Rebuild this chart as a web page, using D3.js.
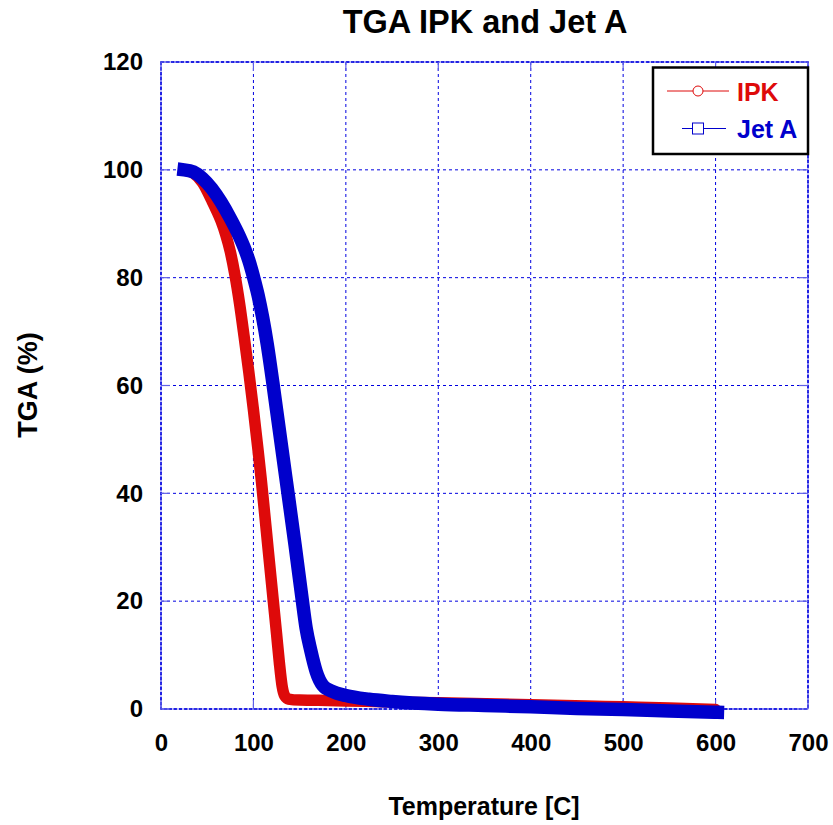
<!DOCTYPE html>
<html>
<head>
<meta charset="utf-8">
<script src="https://cdn.jsdelivr.net/npm/d3@7"></script>
<style>
  html, body { margin: 0; padding: 0; background: #fff; }
  text { font-family: "Liberation Sans", Arial, Helvetica, sans-serif; font-weight: bold; }
</style>
</head>
<body>
<svg id="chart" width="833" height="825"></svg>
<script>
// ---- data ----
const xTicks = [0, 100, 200, 300, 400, 500, 600, 700];
const yTicks = [0, 20, 40, 60, 80, 100, 120];

const ipkTemp = [25, 35, 45, 55, 60, 65, 70, 75, 80, 85, 90, 95, 100, 105, 108.5, 112, 116, 121.5, 125, 128, 131, 134, 138, 150, 170, 200, 250, 300, 400, 460, 500, 550, 600];
const ipkTGA  = [100, 99.4, 97.6, 94.3, 92.5, 90.5, 88, 84.8, 80.5, 75.2, 69, 62.5, 55.5, 48, 42.5, 36.5, 29.5, 20, 14, 8.7, 4.3, 2.4, 1.85, 1.65, 1.6, 1.5, 1.3, 1.15, 0.8, 0.55, 0.4, 0.2, -0.1];

const jetTemp = [25, 35, 45, 55, 65, 75, 85, 90, 95, 100, 105, 110, 115, 121, 125, 135, 145, 152.6, 157, 162, 168, 175, 185, 200, 225, 250, 300, 350, 400, 450, 500, 550, 602];
const jetTGA  = [100, 99.6, 98.4, 96.5, 94, 91, 87.6, 85.6, 83.2, 80.2, 76.8, 72.6, 67.6, 60.5, 55.5, 43, 30.5, 20.5, 15, 10.9, 6.9, 4.4, 3.3, 2.5, 1.8, 1.4, 0.9, 0.65, 0.4, 0.1, -0.1, -0.35, -0.6];

const seriesNames = ["IPK", "Jet A"];
const seriesColors = ["#de0a0a", "#0000cc"];

// ---- layout ----
const svg = d3.select("#chart");
const L = 161, R = 808, T = 62, B = 709;
const x = d3.scaleLinear().domain([0, 700]).range([L, R]);
const y = d3.scaleLinear().domain([0, 120]).range([B, T]);
const gridColor = "#0000e0";
const font = '"Liberation Sans", Arial, sans-serif';

// grid lines
const g = svg.append("g");
g.selectAll("line.vx").data(xTicks).enter().append("line")
  .attr("x1", d => x(d)).attr("x2", d => x(d)).attr("y1", T).attr("y2", B)
  .attr("stroke", gridColor).attr("stroke-width", 1).attr("stroke-dasharray", "3,3");
g.selectAll("line.hy").data(yTicks).enter().append("line")
  .attr("y1", d => y(d)).attr("y2", d => y(d)).attr("x1", L).attr("x2", R)
  .attr("stroke", gridColor).attr("stroke-width", 1).attr("stroke-dasharray", "3,3");

// frame (light solid under dashed)
g.append("rect").attr("x", L).attr("y", T).attr("width", R - L).attr("height", B - T)
  .attr("fill", "none").attr("stroke", "#8080ee").attr("stroke-width", 1);
g.append("rect").attr("x", L).attr("y", T).attr("width", R - L).attr("height", B - T)
  .attr("fill", "none").attr("stroke", gridColor).attr("stroke-width", 1.5).attr("stroke-dasharray", "3,2");

// tick marks inward
const tk = 9;
xTicks.forEach(v => {
  g.append("line").attr("x1", x(v)).attr("x2", x(v)).attr("y1", B).attr("y2", B - tk).attr("stroke", "#6060e8").attr("stroke-width", 1.2);
  g.append("line").attr("x1", x(v)).attr("x2", x(v)).attr("y1", T).attr("y2", T + tk).attr("stroke", "#6060e8").attr("stroke-width", 1.2);
});
yTicks.forEach(v => {
  g.append("line").attr("y1", y(v)).attr("y2", y(v)).attr("x1", L).attr("x2", L + tk).attr("stroke", "#6060e8").attr("stroke-width", 1.2);
  g.append("line").attr("y1", y(v)).attr("y2", y(v)).attr("x1", R).attr("x2", R - tk).attr("stroke", "#6060e8").attr("stroke-width", 1.2);
});

// axes labels via d3 axes
const xAxis = svg.append("g").attr("transform", `translate(0,${B})`)
  .call(d3.axisBottom(x).tickValues(xTicks).tickSize(0).tickPadding(25).tickFormat(d3.format("d")));
xAxis.select(".domain").remove();
xAxis.selectAll("text").attr("font-size", 24).attr("fill", "#000")
  .style("font-family", font).style("font-weight", "bold");

const yAxis = svg.append("g").attr("transform", `translate(${L},0)`)
  .call(d3.axisLeft(y).tickValues(yTicks).tickSize(0).tickPadding(18).tickFormat(d3.format("d")));
yAxis.select(".domain").remove();
yAxis.selectAll("text").attr("font-size", 24).attr("fill", "#000")
  .style("font-family", font).style("font-weight", "bold");

// series lines
const line = d3.line().x(d => x(d[0])).y(d => y(d[1])).curve(d3.curveMonotoneX);
const ipkData = ipkTemp.map((t, i) => [t, ipkTGA[i]]);
const jetData = jetTemp.map((t, i) => [t, jetTGA[i]]);

svg.append("path").datum(ipkData).attr("d", line)
  .attr("fill", "none").attr("stroke", seriesColors[0]).attr("stroke-width", 11.5)
  .attr("stroke-linecap", "round").attr("stroke-linejoin", "round");
svg.append("path").datum(jetData).attr("d", line)
  .attr("fill", "none").attr("stroke", seriesColors[1]).attr("stroke-width", 13.5)
  .attr("stroke-linecap", "square").attr("stroke-linejoin", "round");

// legend
const lg = svg.append("g");
lg.append("rect").attr("x", 653).attr("y", 67.5).attr("width", 155).attr("height", 86.5)
  .attr("fill", "#fff").attr("stroke", "#000").attr("stroke-width", 2.5);
lg.append("line").attr("x1", 667).attr("x2", 729).attr("y1", 91).attr("y2", 91)
  .attr("stroke", seriesColors[0]).attr("stroke-width", 1);
lg.append("circle").attr("cx", 698).attr("cy", 91).attr("r", 5)
  .attr("fill", "#fff").attr("stroke", seriesColors[0]).attr("stroke-width", 1);
lg.append("text").attr("x", 737).attr("y", 100.5).attr("font-size", 25)
  .attr("fill", seriesColors[0]).text(seriesNames[0]);
lg.append("line").attr("x1", 682).attr("x2", 726).attr("y1", 128.5).attr("y2", 128.5)
  .attr("stroke", seriesColors[1]).attr("stroke-width", 1);
lg.append("rect").attr("x", 692.5).attr("y", 123).attr("width", 11).attr("height", 11)
  .attr("fill", "#fff").attr("stroke", seriesColors[1]).attr("stroke-width", 1);
lg.append("text").attr("x", 737).attr("y", 137.5).attr("font-size", 25)
  .attr("fill", seriesColors[1]).text(seriesNames[1]);

// title & axis titles
svg.append("text").attr("x", 485).attr("y", 33).attr("text-anchor", "middle")
  .attr("font-size", 32.5).attr("fill", "#000").text("TGA IPK and Jet A");
svg.append("text").attr("x", 484).attr("y", 815).attr("text-anchor", "middle")
  .attr("font-size", 25).attr("fill", "#000").text("Temperature [C]");
svg.append("text").attr("transform", "translate(37,385) rotate(-90)").attr("text-anchor", "middle")
  .attr("font-size", 27).attr("fill", "#000").text("TGA (%)");
</script>
</body>
</html>
